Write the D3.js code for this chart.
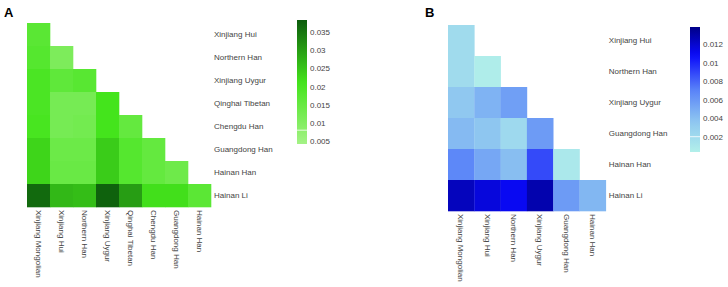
<!DOCTYPE html>
<html>
<head>
<meta charset="utf-8">
<script src="https://cdn.jsdelivr.net/npm/d3@7"></script>
<style>
    body { margin: 0; background: #fff; }
    svg { display: block; font-family: "Liberation Sans", Arial, sans-serif; }
    .axis text { fill: #444; font-size: 8px; }
    .axis path, .axis line { display: none; }
    .panel-tag { font-size: 13px; font-weight: bold; fill: #000; }
</style>
</head>
<body>
<svg id="chart" width="728" height="287"></svg>
<script>
// ---- panel A data (lower triangle, row i has i+1 values) ----
const colsA = ["Xinjiang Mongolian", "Xinjiang Hui", "Northern Han", "Xinjiang Uygur",
    "Qinghai Tibetan", "Chengdu Han", "Guangdong Han", "Hainan Han"];
const rowsA = ["Xinjiang Hui", "Northern Han", "Xinjiang Uygur", "Qinghai Tibetan",
    "Chengdu Han", "Guangdong Han", "Hainan Han", "Hainan Li"];
const valuesA = [
    [0.0172],
    [0.0180, 0.0110],
    [0.0198, 0.0163, 0.0175],
    [0.0198, 0.0122, 0.0122, 0.0210],
    [0.0203, 0.0122, 0.0128, 0.0210, 0.0154],
    [0.0229, 0.0140, 0.0140, 0.0241, 0.0180, 0.0154],
    [0.0229, 0.0145, 0.0145, 0.0241, 0.0180, 0.0154, 0.0137],
    [0.0365, 0.0266, 0.0260, 0.0375, 0.0300, 0.0216, 0.0216, 0.0170]
];
const ticksA = [0.005, 0.01, 0.015, 0.02, 0.025, 0.03, 0.035];
const limitsA = [0.0042, 0.0383];

// ---- panel B data ----
const colsB = ["Xinjiang Mongolian", "Xinjiang Hui", "Northern Han", "Xinjiang Uygur",
    "Guangdong Han", "Hainan Han"];
const rowsB = ["Xinjiang Hui", "Northern Han", "Xinjiang Uygur", "Guangdong Han",
    "Hainan Han", "Hainan Li"];
const valuesB = [
    [0.0020],
    [0.0020, 0.0006],
    [0.0035, 0.0046, 0.0056],
    [0.0042, 0.0036, 0.0022, 0.0058],
    [0.0068, 0.0052, 0.0040, 0.0088, 0.0010],
    [0.0124, 0.0116, 0.0110, 0.0128, 0.0058, 0.0044]
];
const ticksB = [0.002, 0.004, 0.006, 0.008, 0.01, 0.012];
const limitsB = [0.00035, 0.01383];

class TriHeatmap {

    constructor(svg, config) {
        let self = this;
        self.svg = svg;
        self.config = config;
        self.g = svg.append('g');
    }

    render() {
        let self = this;
        const c = self.config;

        const xscale = d3.scaleBand()
            .domain(c.cols)
            .range([c.left, c.left + c.cols.length * c.cw]);
        const yscale = d3.scaleBand()
            .domain(c.rows)
            .range([c.top, c.top + c.rows.length * c.ch]);

        const cells = [];
        c.values.forEach((row, i) => {
            row.forEach((v, j) => cells.push({ row: c.rows[i], col: c.cols[j], v: v }));
        });

        self.g.selectAll('rect.cell')
            .data(cells)
            .join('rect')
            .attr('class', 'cell')
            .attr('x', d => xscale(d.col))
            .attr('y', d => yscale(d.row))
            .attr('width', xscale.bandwidth() + 0.3)
            .attr('height', yscale.bandwidth() + 0.3)
            .attr('fill', d => c.color(d.v));

        // row labels on the right
        self.g.append('g')
            .attr('class', 'axis')
            .attr('transform', `translate(${c.left + c.cols.length * c.cw}, 0)`)
            .call(d3.axisRight(yscale).tickSize(0).tickPadding(3));

        // column labels below, turned
        const xg = self.g.append('g')
            .attr('class', 'axis')
            .attr('transform', `translate(0, ${c.top + c.rows.length * c.ch})`)
            .call(d3.axisBottom(xscale).tickSize(0));
        xg.selectAll('text')
            .attr('transform', 'rotate(90)')
            .attr('x', 3)
            .attr('y', 0)
            .attr('dy', '0.35em')
            .style('text-anchor', 'start');

        // colour bar
        const lscale = d3.scaleLinear()
            .domain(c.limits)
            .range([c.barBottom, c.barTop]);
        const gid = 'grad-' + c.name;
        const grad = self.svg.append('defs').append('linearGradient')
            .attr('id', gid)
            .attr('x1', 0).attr('y1', 1).attr('x2', 0).attr('y2', 0);
        d3.range(0, 1.0001, 0.05).forEach(t => {
            grad.append('stop')
                .attr('offset', t)
                .attr('stop-color', c.color(c.limits[0] + t * (c.limits[1] - c.limits[0])));
        });
        self.g.append('rect')
            .attr('x', c.barX)
            .attr('y', c.barTop)
            .attr('width', c.barW)
            .attr('height', c.barBottom - c.barTop)
            .attr('fill', `url(#${gid})`);
        self.g.append('line')
            .attr('x1', c.barX).attr('x2', c.barX + c.barW)
            .attr('y1', lscale(c.gap)).attr('y2', lscale(c.gap))
            .attr('stroke', '#fff')
            .attr('stroke-opacity', 0.8)
            .attr('stroke-width', 1);

        self.g.append('g')
            .attr('class', 'axis')
            .attr('transform', `translate(${c.barX + c.barW}, 0)`)
            .call(d3.axisRight(lscale).tickValues(c.ticks).tickFormat(d3.format('~g'))
                .tickSize(0).tickPadding(3));

        self.g.append('text')
            .attr('class', 'panel-tag')
            .attr('x', c.tagX)
            .attr('y', 17)
            .text(c.name);
    }
}

const svg = d3.select('#chart');

const colorA = d3.scaleLinear()
    .domain([0.0042, 0.021, 0.0383])
    .range(['#a4f286', '#44e41c', '#0c5c0c'])
    .clamp(true);

const colorB = d3.scaleLinear()
    .domain([0.00035, 0.0035, 0.007, 0.0108, 0.0138])
    .range(['#b2f0ea', '#90c8f0', '#5a84f8', '#0a0afa', '#000088'])
    .clamp(true);

new TriHeatmap(svg, {
    name: 'A', tagX: 4,
    cols: colsA, rows: rowsA, values: valuesA,
    left: 27, top: 23, cw: 23, ch: 23,
    color: colorA, limits: limitsA, ticks: ticksA, gap: 0.008,
    barX: 297, barW: 10, barTop: 20, barBottom: 144
}).render();

new TriHeatmap(svg, {
    name: 'B', tagX: 425,
    cols: colsB, rows: rowsB, values: valuesB,
    left: 448, top: 25, cw: 26.3, ch: 31,
    color: colorB, limits: limitsB, ticks: ticksB, gap: 0.002,
    barX: 690, barW: 10, barTop: 27, barBottom: 152
}).render();
</script>
</body>
</html>
